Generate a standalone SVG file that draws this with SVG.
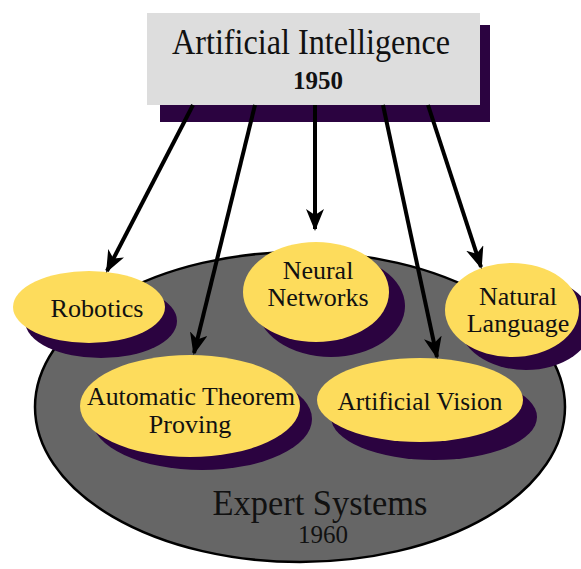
<svg xmlns="http://www.w3.org/2000/svg" width="581" height="569" viewBox="0 0 581 569">
<style>
.shadow{fill:#2b0340}
.node{fill:#fddc5c}
text{font-family:'Liberation Serif','Times New Roman','DejaVu Serif',serif;fill:#111;text-anchor:middle}
.lbl{font-size:26px}
.big{font-size:35px}
.yr{font-size:25px}
.conn{stroke:#000;stroke-width:4;fill:none;marker-end:url(#arrow)}
</style>
<defs>
<marker id="arrow" viewBox="0 0 22 18" refX="20" refY="9" markerWidth="22" markerHeight="18" markerUnits="userSpaceOnUse" orient="auto">
<path d="M0,0 L22,9 L0,18 L6,9 z" fill="#000"/>
</marker>
</defs>
<rect width="581" height="569" fill="#fff"/>
<g id="expert-systems">
<ellipse cx="300" cy="407" rx="265" ry="155" fill="#666" stroke="#000" stroke-width="2.5"/>
<text class="big" x="320" y="515" textLength="215" lengthAdjust="spacingAndGlyphs">Expert Systems</text>
<text class="yr" x="323" y="543">1960</text>
</g>
<g id="title">
<rect x="160" y="25" width="330" height="97" class="shadow"/>
<rect x="147" y="13" width="333" height="92" fill="#dddddd"/>
<text class="big" x="311" y="54" textLength="278" lengthAdjust="spacingAndGlyphs">Artificial Intelligence</text>
<text class="yr" x="318" y="89" font-weight="bold">1950</text>
</g>
<g id="robotics">
<ellipse cx="101" cy="321" rx="76" ry="37" class="shadow"/>
<ellipse cx="89" cy="307" rx="76" ry="36" class="node"/>
<text class="lbl" x="97" y="317" textLength="93" lengthAdjust="spacingAndGlyphs">Robotics</text>
</g>
<g id="automatic-theorem-proving">
<ellipse cx="202" cy="419" rx="110" ry="51" class="shadow"/>
<ellipse cx="190" cy="406" rx="110" ry="51" class="node"/>
<text class="lbl" x="191" y="405" textLength="208" lengthAdjust="spacingAndGlyphs">Automatic Theorem</text>
<text class="lbl" x="190" y="433">Proving</text>
</g>
<g id="neural-networks">
<ellipse cx="331" cy="306" rx="74" ry="51" class="shadow"/>
<ellipse cx="316" cy="292" rx="73" ry="50" class="node"/>
<text class="lbl" x="318" y="279">Neural</text>
<text class="lbl" x="318" y="306">Networks</text>
</g>
<g id="natural-language">
<ellipse cx="526" cy="323" rx="67" ry="47" class="shadow"/>
<ellipse cx="512" cy="310" rx="67" ry="47" class="node"/>
<text class="lbl" x="518" y="305">Natural</text>
<text class="lbl" x="518" y="332">Language</text>
</g>
<g id="artificial-vision">
<ellipse cx="434" cy="417" rx="103" ry="43" class="shadow"/>
<ellipse cx="420" cy="400" rx="103" ry="42" class="node"/>
<text class="lbl" x="420" y="410" textLength="165" lengthAdjust="spacingAndGlyphs">Artificial Vision</text>
</g>
<g id="connectors">
<line class="conn" x1="193" y1="105" x2="107" y2="271"/>
<line class="conn" x1="255" y1="105" x2="194" y2="353"/>
<line class="conn" x1="315" y1="105" x2="315" y2="229"/>
<line class="conn" x1="383" y1="105" x2="437" y2="357"/>
<line class="conn" x1="428" y1="105" x2="481" y2="267"/>
</g>
</svg>
